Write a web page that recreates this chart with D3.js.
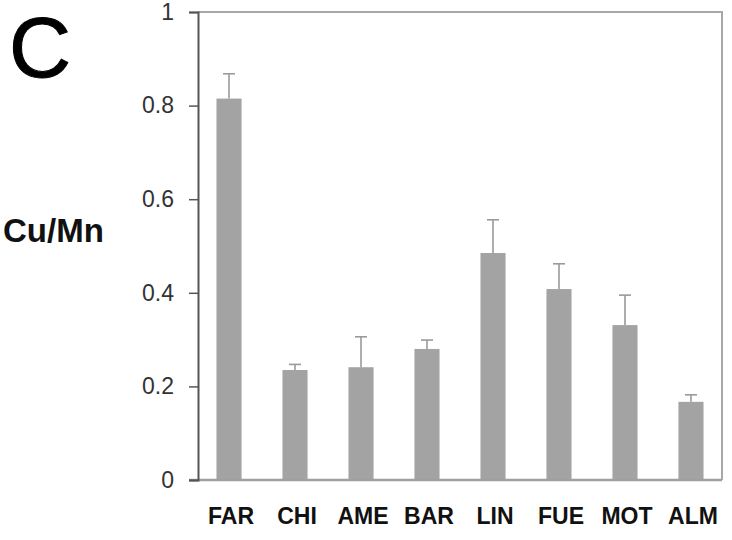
<!DOCTYPE html>
<html lang="en">
<head>
  <meta charset="UTF-8">
  <title>Cu/Mn</title>
  <script src="https://d3js.org/d3.v7.min.js"></script>
  <style>
    body {
      margin: 0;
      background: #fff;
    }
    svg {
      font-family: "Liberation Sans", Arial, sans-serif;
      display: block;
    }
  </style>
</head>
<body>
  <svg width="732" height="540"></svg>
  <script>
    const sites = ["FAR", "CHI", "AME", "BAR", "LIN", "FUE", "MOT", "ALM"];
    const ratio = [0.815, 0.235, 0.241, 0.280, 0.485, 0.408, 0.331, 0.167];
    const ratioErr = [0.053, 0.012, 0.065, 0.019, 0.071, 0.054, 0.064, 0.015];
    const yTicks = [0, 0.2, 0.4, 0.6, 0.8, 1];

    const margin = { top: 12, right: 10, bottom: 60, left: 198 },
      width = 732 - margin.left - margin.right,
      height = 540 - margin.top - margin.bottom;

    const svg = d3.select("svg");
    const g = svg.append("g")
      .attr("transform", `translate(${margin.left},${margin.top})`);

    const x = d3.scaleBand()
      .domain(sites)
      .range([0, width])
      .paddingInner(0.62)
      .paddingOuter(0.28);

    const y = d3.scaleLinear().domain([0, 1]).range([height, 0]);

    const data = sites.map((s, i) => ({ site: s, v: ratio[i], e: ratioErr[i] }));

    // frame (top + right), lighter grey
    g.append("path")
      .attr("d", `M0,${y(1)}H${width}V${y(0)}`)
      .attr("fill", "none")
      .attr("stroke", "#a8a8a8")
      .attr("stroke-width", 2);

    // bars
    g.selectAll(".bar")
      .data(data)
      .join("rect")
      .attr("class", "bar")
      .attr("x", d => x(d.site))
      .attr("width", x.bandwidth())
      .attr("y", d => y(d.v))
      .attr("height", d => y(0) - y(d.v))
      .attr("fill", "#a3a3a3");

    // error bars (upper only)
    const err = g.selectAll(".err")
      .data(data)
      .join("g")
      .attr("class", "err")
      .attr("stroke", "#9a9a9a")
      .attr("stroke-width", 1.6);
    err.append("line")
      .attr("x1", d => x(d.site) + x.bandwidth() / 2)
      .attr("x2", d => x(d.site) + x.bandwidth() / 2)
      .attr("y1", d => y(d.v))
      .attr("y2", d => y(d.v + d.e));
    err.append("line")
      .attr("x1", d => x(d.site) + x.bandwidth() / 2 - 6)
      .attr("x2", d => x(d.site) + x.bandwidth() / 2 + 6)
      .attr("y1", d => y(d.v + d.e))
      .attr("y2", d => y(d.v + d.e));

    // x axis line
    g.append("line")
      .attr("x1", -9).attr("x2", width)
      .attr("y1", y(0)).attr("y2", y(0))
      .attr("stroke", "#a0a0a0")
      .attr("stroke-width", 2.5);

    // y axis
    const yAxis = g.append("g")
      .call(d3.axisLeft(y).tickValues(yTicks).tickSize(9).tickPadding(15)
        .tickFormat(d => d3.format("~g")(d)));
    yAxis.select(".domain").attr("stroke", "#555").attr("stroke-width", 2);
    yAxis.selectAll(".tick line").attr("stroke", "#555").attr("stroke-width", 1.5);
    yAxis.selectAll(".tick text")
      .attr("font-size", 23)
      .attr("fill", "#333");

    // x labels
    g.selectAll(".xlab")
      .data(sites)
      .join("text")
      .attr("class", "xlab")
      .attr("x", d => x(d) + x.bandwidth() / 2 + 2)
      .attr("y", y(0) + 36)
      .attr("dy", "0.35em")
      .attr("text-anchor", "middle")
      .attr("font-size", 23)
      .attr("font-weight", "bold")
      .attr("fill", "#111")
      .text(d => d);

    // y title
    svg.append("text")
      .attr("x", 3)
      .attr("y", 242)
      .attr("font-size", 33)
      .attr("font-weight", "bold")
      .attr("fill", "#111")
      .text("Cu/Mn");

    // panel letter
    svg.append("text")
      .attr("x", 9)
      .attr("y", 77)
      .attr("font-size", 86)
      .attr("fill", "#000")
      .attr("stroke", "#000")
      .attr("stroke-width", 1)
      .text("C");
  </script>
</body>
</html>
